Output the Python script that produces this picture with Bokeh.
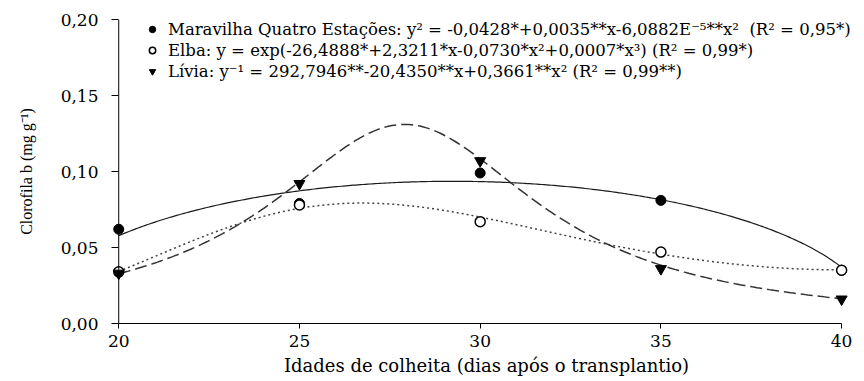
import numpy as np
from bokeh.plotting import figure
from bokeh.models import (Range1d, FixedTicker, Legend, LegendItem, Span,
                          CustomJSTickFormatter)
from bokeh.embed import file_html
from bokeh.resources import INLINE

# ---- data ----
dias = [20, 25, 30, 35, 40]
maravilha = [0.062, 0.079, 0.099, 0.081, 0.035]
elba = [0.034, 0.078, 0.067, 0.047, 0.035]
livia = [0.033, 0.092, 0.107, 0.036, 0.016]
# Lívia regression as printed in the legend: 1/y = a + b*x + c*x^2
livia_coef = [292.7946, -20.4350, 0.3661]

x_ticks = [20, 25, 30, 35, 40]
y_ticks = [0.0, 0.05, 0.10, 0.15, 0.20]

legend_labels = [
    "Maravilha Quatro Estações: y² = -0,0428*+0,0035**x-6,0882E⁻⁵**x²  (R² = 0,95*)",
    "Elba: y = exp(-26,4888*+2,3211*x-0,0730*x²+0,0007*x³) (R² = 0,99*)",
    "Lívia: y⁻¹ = 292,7946**-20,4350**x+0,3661**x² (R² = 0,99**)",
]
x_title = "Idades de colheita (dias após o transplantio)"
y_title = "Clorofila b (mg g⁻¹)"

# ---- regression curves (same model forms as the legend) ----
xs = np.linspace(dias[0], dias[-1], 300)
mq_c = np.polyfit(dias, np.square(maravilha), 2)
mq_curve = np.sqrt(np.clip(np.polyval(mq_c, xs), 0, None))
el_c = np.polyfit(dias, np.log(elba), 3)
el_curve = np.exp(np.polyval(el_c, xs))
a, b, c = livia_coef
lv_curve = 1.0 / (a + b * xs + c * xs ** 2)

SERIF = "DejaVu Serif"

p = figure(width=864, height=381,
           x_range=Range1d(19.8, 40.55), y_range=Range1d(0, 0.2),
           output_backend="svg", toolbar_location=None,
           min_border_left=111, min_border_right=3,
           min_border_top=19, min_border_bottom=58)
p.xgrid.visible = False
p.ygrid.visible = False
p.outline_line_color = None
p.background_fill_color = "white"

# x axis (at the bottom of the frame, y = 0)
xa = p.xaxis[0]
xa.ticker = FixedTicker(ticks=x_ticks)
xa.bounds = (20, 40)
xa.minor_tick_line_color = None
xa.major_tick_in = 0
xa.major_tick_out = 5
xa.axis_line_color = "black"
xa.major_tick_line_color = "black"
xa.major_label_text_font = SERIF
xa.major_label_text_font_size = "17px"
xa.major_label_text_color = "black"
xa.major_label_standoff = 6
xa.axis_label = x_title
xa.axis_label_text_font = SERIF
xa.axis_label_text_font_size = "18px"
xa.axis_label_text_font_style = "normal"
xa.axis_label_text_color = "black"
xa.axis_label_standoff = 5

# y axis: ticks reach from the frame edge to the axis line at x = 20
ya = p.yaxis[0]
ya.ticker = FixedTicker(ticks=y_ticks)
ya.formatter = CustomJSTickFormatter(code="return tick.toFixed(2).replace('.', ',');")
ya.minor_tick_line_color = None
ya.major_tick_in = 7
ya.major_tick_out = 0
ya.axis_line_color = None
ya.major_tick_line_color = "black"
ya.major_label_text_font = SERIF
ya.major_label_text_font_size = "17px"
ya.major_label_text_color = "black"
ya.major_label_standoff = 13
ya.axis_label = y_title
ya.axis_label_text_font = "Liberation Serif"
ya.axis_label_text_font_size = "16px"
ya.axis_label_text_font_style = "normal"
ya.axis_label_text_color = "black"
ya.axis_label_standoff = 23

p.add_layout(Span(location=dias[0], dimension="height",
                  line_color="black", line_width=1))

# curves
p.line(xs, mq_curve, line_color="#1a1a1a", line_width=1.2)
p.line(xs, el_curve, line_color="#444444", line_width=1.5, line_dash="2 3")
p.line(xs, lv_curve, line_color="#333333", line_width=1.5, line_dash="12 5")

# points
r_mq = p.scatter(dias, maravilha, marker="circle", size=10,
                 fill_color="black", line_color="black")
r_el = p.scatter(dias, elba, marker="circle", size=10,
                 fill_color="white", line_color="black", line_width=1.5)
r_lv = p.scatter(dias, livia, marker="inverted_triangle", size=11,
                 fill_color="black", line_color="black")

legend = Legend(items=[LegendItem(label=legend_labels[0], renderers=[r_mq]),
                       LegendItem(label=legend_labels[1], renderers=[r_el]),
                       LegendItem(label=legend_labels[2], renderers=[r_lv])],
                location=(33, 242), padding=0, margin=0, spacing=1,
                glyph_width=16, glyph_height=20, label_height=20,
                label_standoff=8, label_text_font=SERIF,
                label_text_font_size="16.5px", label_text_color="black",
                border_line_color=None, background_fill_alpha=0)
p.add_layout(legend)

open("out.html", "w").write(file_html(p, INLINE))
